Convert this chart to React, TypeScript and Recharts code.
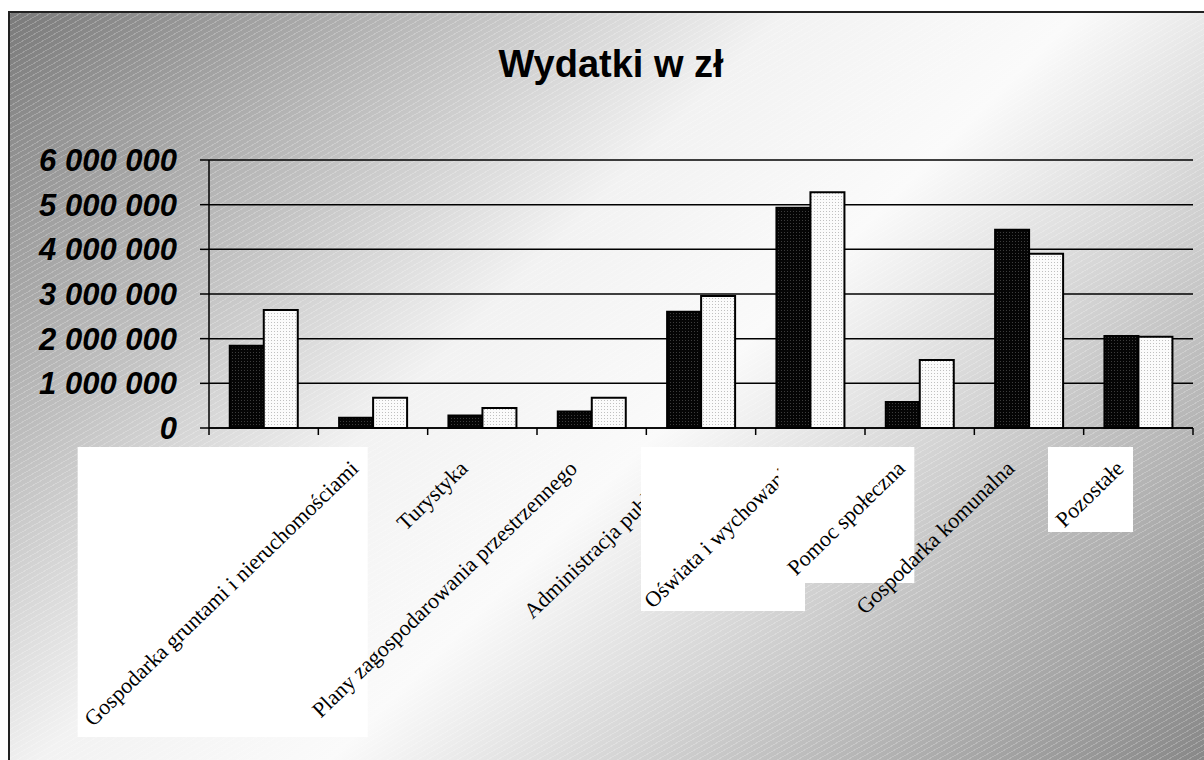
import { BarChart, Bar, XAxis, YAxis, CartesianGrid } from 'recharts';

// Categories (the ninth bar pair has no visible label)
const categories = [
  'Gospodarka gruntami i nieruchomościami',
  'Turystyka',
  'Plany zagospodarowania przestrzennego',
  'Administracja publiczna',
  'Oświata i wychowanie',
  'Pomoc społeczna',
  'Gospodarka komunalna',
  'Pozostałe',
  '',
];

const seriesA = [1840000, 230000, 280000, 370000, 2600000, 4930000, 580000, 4440000, 2060000];
const seriesB = [2640000, 680000, 450000, 680000, 2955000, 5280000, 1520000, 3900000, 2045000];

const yTicks = [0, 1000000, 2000000, 3000000, 4000000, 5000000, 6000000];

const chartData = categories.map((name, i) => ({ name, a: seriesA[i], b: seriesB[i] }));

// white backgrounds that sit behind some of the rotated labels (px, 0 = none)
const labelBoxSize = [290, 0, 0, 0, 164, 136, 0, 85, 0];

const sansFont = "'Liberation Sans', Arial, sans-serif";
const serifFont = "'Liberation Serif', 'Times New Roman', serif";

const formatMoney = (v: number) => String(v).replace(/\B(?=(\d{3})+(?!\d))/g, ' ');

function CategoryTick(props: any) {
  const { x, y, payload, index } = props;
  const half = payload?.offset || 984 / 9 / 2;
  const ex = x + 96;
  const ey = y + 42;
  const box = labelBoxSize[index] || 0;
  const isLast = index === categories.length - 1;
  return (
    <g>
      <line x1={x - half} y1={y} x2={x - half} y2={y + 7} stroke="#000" strokeWidth={1.5} />
      {isLast && <line x1={x + half} y1={y} x2={x + half} y2={y + 7} stroke="#000" strokeWidth={1.5} />}
      {box > 0 && <rect x={x + 104 - box} y={y + 19} width={box} height={box} fill="#fff" />}
      <text
        x={ex}
        y={ey}
        textAnchor="end"
        transform={`rotate(-44, ${ex}, ${ey})`}
        fontFamily={serifFont}
        fontSize={22}
        fill="#000"
      >
        {payload.value}
      </text>
    </g>
  );
}

export default function App() {
  return (
    <div style={{ position: 'fixed', left: 0, top: 0, width: 1204, height: 760, overflow: 'hidden' }}>
      <div
        style={{
          position: 'absolute',
          left: 8,
          top: 11,
          width: 1194,
          height: 747,
          borderLeft: '2px solid #222',
          borderTop: '2px solid #222',
          background:
            'repeating-linear-gradient(150deg, rgba(255,255,255,0.22) 0px, rgba(255,255,255,0.22) 1px, rgba(255,255,255,0) 1px, rgba(255,255,255,0) 5px), linear-gradient(135deg, #7a7a7a 0%, #f2f2f2 40%, #fafafa 55%, #888888 100%)',
        }}
      >
        <div
          style={{
            position: 'absolute',
            left: 0,
            top: 32,
            width: 1202,
            textAlign: 'center',
            fontFamily: sansFont,
            fontWeight: 700,
            fontSize: 38,
            lineHeight: '38px',
            color: '#000',
          }}
        >
          Wydatki w zł
        </div>
        <BarChart
          width={1194}
          height={747}
          data={chartData}
          margin={{ top: 147, right: 11, bottom: 0, left: 0 }}
          barCategoryGap="19%"
          barGap={0}
        >
          <defs>
            <pattern id="darkDots" width="3" height="3" patternUnits="userSpaceOnUse">
              <rect width="3" height="3" fill="#050505" />
              <rect width="1" height="1" fill="#3c3c3c" />
            </pattern>
            <pattern id="lightDots" width="3" height="3" patternUnits="userSpaceOnUse">
              <rect width="3" height="3" fill="#fbfbfb" />
              <rect width="1" height="1" fill="#c0c0c0" />
            </pattern>
          </defs>
          <CartesianGrid vertical={false} stroke="#000" strokeWidth={1.5} />
          <XAxis
            dataKey="name"
            height={332}
            interval={0}
            tickLine={false}
            tickSize={0}
            tickMargin={0}
            axisLine={{ stroke: '#000', strokeWidth: 1.5 }}
            tick={<CategoryTick />}
          />
          <YAxis
            width={199}
            domain={[0, 6000000]}
            ticks={yTicks}
            interval={0}
            tickFormatter={formatMoney}
            tickSize={9}
            tickMargin={23}
            tickLine={{ stroke: '#000', strokeWidth: 1.5 }}
            axisLine={{ stroke: '#000', strokeWidth: 1.5 }}
            tick={{ fill: '#000', fontSize: 31, fontWeight: 700, fontStyle: 'italic', fontFamily: sansFont }}
          />
          <YAxis
            yAxisId="right"
            orientation="right"
            width={0}
            domain={[0, 6000000]}
            tick={false}
            tickLine={false}
            axisLine={{ stroke: '#000', strokeWidth: 1.5 }}
          />
          <Bar dataKey="a" fill="url(#darkDots)" stroke="#000" strokeWidth={2} isAnimationActive={false} />
          <Bar dataKey="b" fill="url(#lightDots)" stroke="#000" strokeWidth={2} isAnimationActive={false} />
        </BarChart>
      </div>
    </div>
  );
}
